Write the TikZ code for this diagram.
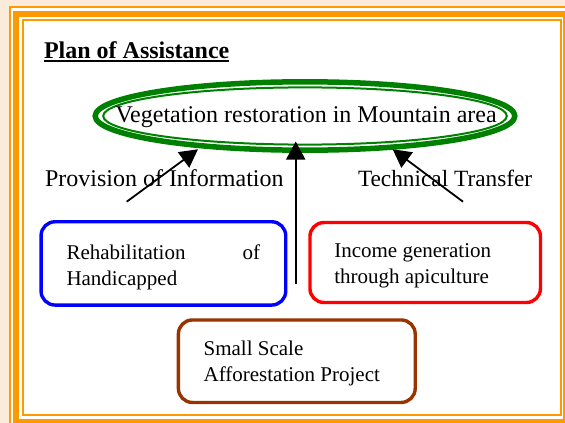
\documentclass[tikz,border=0pt]{standalone}
\usepackage{fontspec}
\setmainfont{Liberation Serif}
\usetikzlibrary{arrows.meta,calc}
\definecolor{peach}{HTML}{FCEADB}
\definecolor{frameorange}{HTML}{FF9900}
\definecolor{vegreen}{HTML}{008000}
\definecolor{boxblue}{HTML}{0000FF}
\definecolor{boxred}{HTML}{FF0000}
\definecolor{boxbrown}{HTML}{993300}
\begin{document}
\begin{tikzpicture}[x=1pt,y=-1pt,
  every node/.style={inner sep=0pt, outer sep=0pt},
  lbl/.style={font=\fontsize{24}{28}\selectfont, anchor=base west},
  boxtext/.style={font=\fontsize{21}{25.5}\selectfont, anchor=base west},
  roundbox/.style={draw=#1, line width=3.4pt, rounded corners=14pt},
  arr/.style={line width=1.8pt, -{Triangle[length=18pt,width=19pt]}}
]
\useasboundingbox (0,0) rectangle (565,423);
\clip (0,0) rectangle (565,423);
% background and frame
\fill[peach] (0,0) rectangle (565,423);
\fill[white] (9,6) rectangle (580,440);
\draw[frameorange, line width=2pt] (10,7) rectangle (571,429);
\draw[frameorange, line width=6pt] (16,14) rectangle (566,422);
\draw[frameorange, line width=2pt] (23,20) rectangle (561,415);

% title
\node[anchor=base west, font=\fontsize{24}{28}\selectfont\bfseries] (title) at (44,58) {Plan of Assistance};
\draw[line width=2.2pt] ($(title.base west)+(0,3)$) -- ($(title.base east)+(0,3)$);

% ellipse
\coordinate (vc) at (305,116);
\draw[vegreen, line width=5.5pt] (vc) ellipse [x radius=209.8pt, y radius=34.2pt];
\draw[vegreen, line width=2pt] (vc) ellipse [x radius=201.8pt, y radius=28.6pt];
\node[lbl] (veg) at (115.5,122) {Vegetation restoration in Mountain area};

% side labels
\node[lbl] (info) at (45,186) {Provision of Information};
\node[lbl, font=\fontsize{23.3}{28}\selectfont] (tech) at (358,186) {Technical Transfer};

% boxes
\node[roundbox=boxblue, minimum width=244.7pt, minimum height=83.3pt] (rehab) at (163.4,263.4) {};
\node[roundbox=boxred, minimum width=230.5pt, minimum height=80pt] (income) at (425.2,262.5) {};
\node[roundbox=boxbrown, minimum width=236.8pt, minimum height=82.5pt] (afforest) at (296.8,361.2) {};

\node[boxtext] (rehabtext) at (66.5,259.5) {\begin{tabular}[t]{@{}l@{}}\hbox to 193.5pt{Rehabilitation\hfill of}\\Handicapped\end{tabular}};
\node[boxtext] (incometext) at (334.3,257.5) {\begin{tabular}[t]{@{}l@{}}Income generation\\through apiculture\end{tabular}};
\node[boxtext] (afforesttext) at (203.6,355.5) {\begin{tabular}[t]{@{}l@{}}Small Scale\\Afforestation Project\end{tabular}};

% arrows
\coordinate (tailL) at (126.7,201.7);
\coordinate (tipL) at (198,149.3);
\coordinate (tailR) at (463,201.7);
\coordinate (tipR) at (392.7,149.3);
\coordinate (tailM) at (295.7,284);
\coordinate (tipM) at (295.7,141.5);
\draw[arr] (tailL) -- (tipL);
\draw[arr] (tailR) -- (tipR);
\draw[arr] (tailM) -- (tipM);
\end{tikzpicture}
\end{document}
